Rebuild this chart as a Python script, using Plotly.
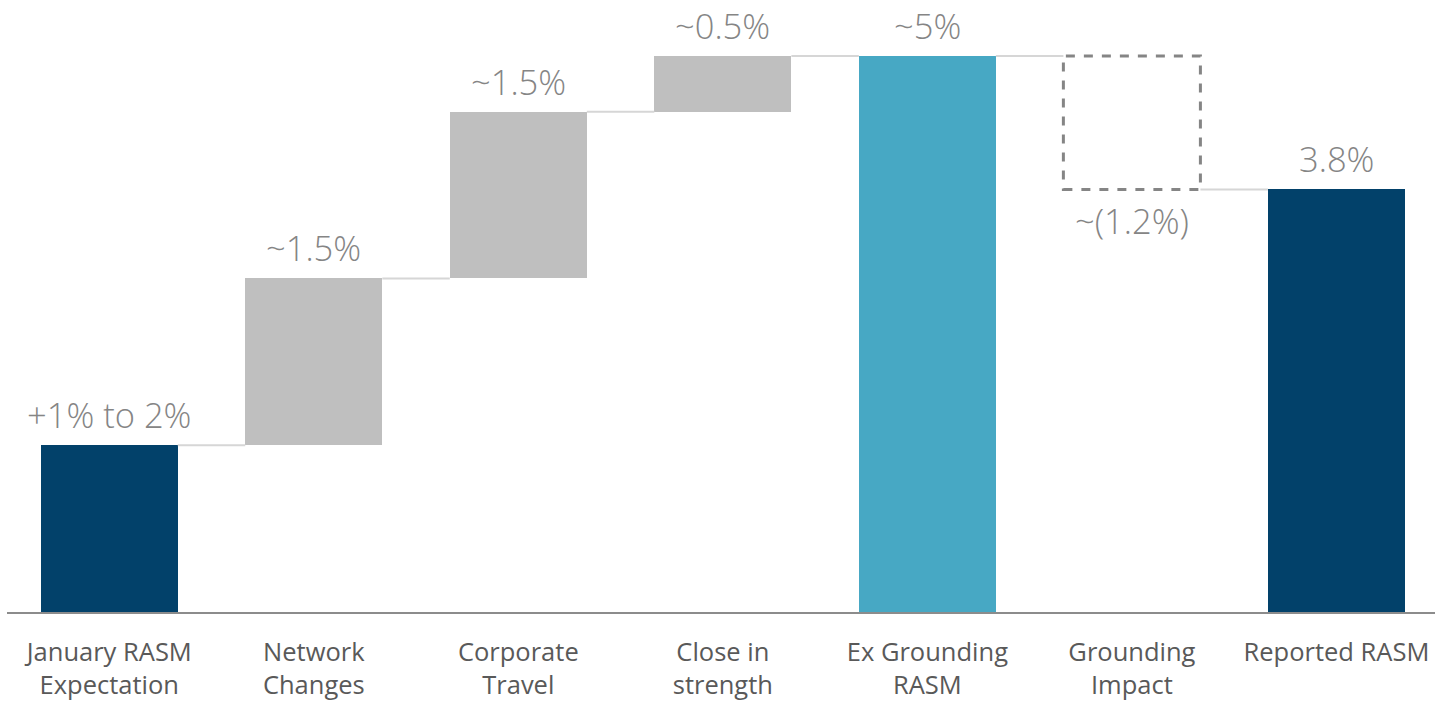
import plotly.graph_objects as go

# RASM bridge: January expectation to reported RASM (%)
categories = [
    "January RASM<br>Expectation",
    "Network<br>Changes",
    "Corporate<br>Travel",
    "Close in<br>strength",
    "Ex Grounding<br>RASM",
    "Grounding<br>Impact",
    "Reported RASM",
]
values = [1.5, 1.5, 1.5, 0.5, 5.0, -1.2, 3.8]
kinds = ["total", "delta", "delta", "delta", "total", "delta", "total"]
value_labels = ["+1% to 2%", "~1.5%", "~1.5%", "~0.5%", "~5%", "~(1.2%)", "3.8%"]

NAVY = "#02416a"
TEAL = "#47a8c4"
GREY = "#bfbfbf"
bar_colors = [NAVY, GREY, GREY, GREY, TEAL, "rgba(0,0,0,0)", NAVY]

# running levels for the bridge
bases, tops = [], []
level = 0.0
for v, k in zip(values, kinds):
    if k == "total":
        b, t = 0.0, v
        level = v
    else:
        b, t = (level, level + v) if v >= 0 else (level + v, level)
        level = level + v
    bases.append(b)
    tops.append(t)

xs = list(range(len(categories)))
half = 0.335

fig = go.Figure()

# connectors between consecutive bars
for i in range(len(xs) - 1):
    lvl = tops[i] if values[i] >= 0 else bases[i]
    fig.add_trace(go.Scatter(
        x=[xs[i] + half, xs[i + 1] - half], y=[lvl, lvl],
        mode="lines", line=dict(color="#d6d6d6", width=2),
        hoverinfo="skip", showlegend=False,
    ))

fig.add_trace(go.Bar(
    x=xs,
    y=[t - b for t, b in zip(tops, bases)],
    base=bases,
    width=2 * half,
    marker=dict(color=bar_colors, line=dict(width=0)),
    showlegend=False,
))

# dashed outline for negative steps
for i, v in enumerate(values):
    if kinds[i] == "delta" and v < 0:
        fig.add_shape(
            type="rect", xref="x", yref="y",
            x0=xs[i] - half, x1=xs[i] + half, y0=bases[i], y1=tops[i],
            line=dict(color="#858585", width=3, dash="dash"),
            fillcolor="rgba(0,0,0,0)",
        )

label_font = dict(family="Segoe UI Light, Open Sans, Lato, sans-serif",
                  size=34.5, color="#858585", weight=300)
for i, (v, lab) in enumerate(zip(values, value_labels)):
    if v < 0:
        fig.add_annotation(x=xs[i], y=bases[i], text=lab, showarrow=False,
                           yanchor="top", yshift=-6, font=label_font)
    else:
        fig.add_annotation(x=xs[i], y=tops[i], text=lab, showarrow=False,
                           yanchor="bottom", yshift=5, font=label_font)

fig.update_layout(
    width=1435, height=702,
    margin=dict(l=7, r=0, t=0, b=90),
    paper_bgcolor="white", plot_bgcolor="white",
    bargap=0,
    font=dict(family="Segoe UI, Open Sans, sans-serif"),
    xaxis=dict(
        range=[-0.5, 6.482], tickmode="array", tickvals=xs, ticktext=categories,
        showline=True, linecolor="#8c8c8c", linewidth=2,
        showgrid=False, zeroline=False,
        ticks="outside", ticklen=16, tickcolor="rgba(0,0,0,0)",
        tickfont=dict(size=25.5, color="#595959"),
    ),
    yaxis=dict(range=[0, 5.504], visible=False, showgrid=False, zeroline=False),
)

fig.write_html("out.html")
